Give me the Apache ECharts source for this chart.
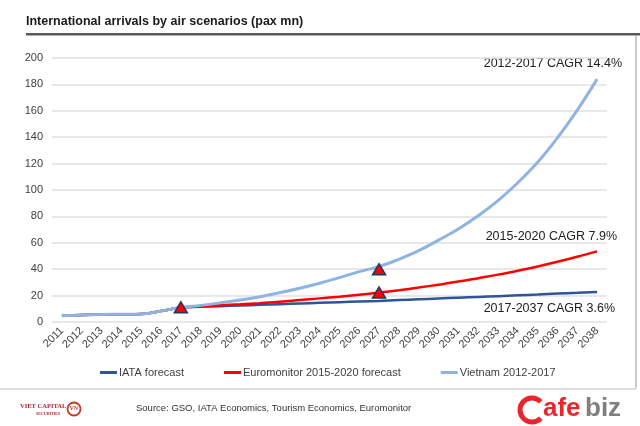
<!DOCTYPE html>
<html>
<head>
<meta charset="utf-8">
<script src="https://cdn.jsdelivr.net/npm/echarts@6/dist/echarts.min.js"></script>
<style>
html,body{margin:0;padding:0;background:#fff;}
#chart{width:640px;height:426px;}
</style>
</head>
<body>
<div id="chart"></div>
<script>
const titleText = 'International arrivals by air scenarios (pax mn)';
const years = ['2011','2012','2013','2014','2015','2016','2017','2018','2019','2020','2021','2022','2023','2024','2025','2026','2027','2028','2029','2030','2031','2032','2033','2034','2035','2036','2037','2038'];
const seriesNames = ['IATA forecast', 'Euromonitor 2015-2020 forecast', 'Vietnam 2012-2017'];
const iataValues = [4.8,5.3,5.7,5.9,6.1,8.3,11.0,11.5,12.0,12.5,13.0,13.5,14.0,14.5,15.0,15.5,16.0,16.6,17.2,17.8,18.4,19.0,19.6,20.2,20.8,21.5,22.1,22.8];
const euroValues = [4.8,5.3,5.7,5.9,6.1,8.3,11.0,11.8,12.6,13.4,14.3,15.3,16.6,17.9,19.2,20.7,22.3,24.1,26.1,28.3,30.6,33.2,35.9,38.9,42.1,45.6,49.4,53.5];
const vietnamValues = [4.8,5.3,5.7,5.9,6.1,8.3,11.0,12.6,14.5,16.6,19.2,22.3,25.6,29.4,33.6,38.2,42.0,47.5,54.0,62.0,70.5,80.5,92.0,105.5,121.0,139.5,160.5,184.0];
const markerYears = ['2017','2027','2027'];
const markerValues = [11.2,40.0,22.3];
const yTicks = [0,20,40,60,80,100,120,140,160,180,200];
const annotations = ['2012-2017 CAGR 14.4%', '2015-2020 CAGR 7.9%', '2017-2037 CAGR 3.6%'];
const sourceText = 'Source: GSO, IATA Economics, Tourism Economics, Euromonitor';

const colors = ['#2F5597', '#FF0000', '#8FB4E3'];
const chart = echarts.init(document.getElementById('chart'), null, {renderer: 'canvas'});
const font = 'Arial, "Liberation Sans", sans-serif';

const option = {
  backgroundColor: '#ffffff',
  animation: false,
  textStyle: {fontFamily: font},
  grid: {left: 52, right: 33, top: 58, bottom: 104, containLabel: false},
  legend: {
    data: seriesNames,
    left: 95,
    top: 362,
    icon: 'rect',
    itemWidth: 17,
    itemHeight: 3,
    itemGap: 40,
    textStyle: {fontSize: 11, color: '#404040', fontFamily: font, padding: [0,0,0,-3]}
  },
  xAxis: {
    type: 'category',
    data: years,
    boundaryGap: true,
    axisLine: {show: false},
    axisTick: {show: false},
    axisLabel: {rotate: 45, fontSize: 11, color: '#404040', margin: 7, interval: 0, fontFamily: font}
  },
  yAxis: {
    type: 'value',
    min: yTicks[0],
    max: yTicks[yTicks.length - 1],
    interval: 20,
    axisLine: {show: false},
    axisTick: {show: false},
    axisLabel: {fontSize: 11, color: '#404040', margin: 9, fontFamily: font},
    splitLine: {lineStyle: {color: '#e0e0e0', width: 1.5}}
  },
  series: [
    {name: seriesNames[0], type: 'line', data: iataValues, showSymbol: false, symbol: 'none', smooth: 0.4, lineStyle: {color: colors[0], width: 2.5}, itemStyle: {color: colors[0]}, z: 2},
    {name: seriesNames[1], type: 'line', data: euroValues, showSymbol: false, symbol: 'none', smooth: 0.4, lineStyle: {color: colors[1], width: 2.5}, itemStyle: {color: colors[1]}, z: 3},
    {name: seriesNames[2], type: 'line', data: vietnamValues, showSymbol: false, symbol: 'none', smooth: 0.4, lineStyle: {color: colors[2], width: 3}, itemStyle: {color: colors[2]}, z: 4},
    {name: 'markers', type: 'scatter', data: markerYears.map((y, i) => [y, markerValues[i]]), symbol: 'triangle', symbolSize: [13, 11], itemStyle: {color: '#FF0000', borderColor: '#1F3864', borderWidth: 1.5, opacity: 1}, z: 10}
  ],
  graphic: [
    {type: 'text', left: 26, top: 15, style: {text: titleText, font: 'bold 12.5px ' + font, fill: '#1a1a1a'}},
    {type: 'rect', shape: {x: 26, y: 33, width: 614, height: 2.5}, style: {fill: '#595959'}},
    {type: 'line', shape: {x1: 636, y1: 36, x2: 636, y2: 388}, style: {stroke: '#999', lineWidth: 1}},
    {type: 'line', shape: {x1: 0, y1: 389, x2: 636, y2: 389}, style: {stroke: '#dddddd', lineWidth: 2}},
    {type: 'text', right: 18, top: 57, style: {text: annotations[0], font: '12.5px ' + font, fill: '#222'}},
    {type: 'text', right: 23, top: 230, style: {text: annotations[1], font: '12.5px ' + font, fill: '#222'}},
    {type: 'text', right: 25, top: 302, style: {text: annotations[2], font: '12.5px ' + font, fill: '#222'}},
    {type: 'text', left: 136, top: 403, style: {text: sourceText, font: '9.5px ' + font, fill: '#333'}},
    {type: 'text', left: 20, top: 403, style: {text: 'VIET CAPITAL', font: 'bold 6.5px "Liberation Serif", serif', fill: '#B22234'}},
    {type: 'text', left: 36, top: 412, style: {text: 'SECURITIES', font: 'bold 4px "Liberation Serif", serif', fill: '#B22234'}},
    {type: 'circle', shape: {cx: 74, cy: 409, r: 6.5}, style: {fill: 'none', stroke: '#C0392B', lineWidth: 1.8}},
    {type: 'text', left: 69.5, top: 405, style: {text: 'VN', font: 'bold 6px "Liberation Serif", serif', fill: '#C0392B'}},
    {type: 'arc', shape: {cx: 532, cy: 410, r: 12, startAngle: 0.75, endAngle: Math.PI * 2 - 0.75}, style: {fill: 'none', stroke: '#E8262B', lineWidth: 5}},
    {type: 'text', left: 543, top: 396, style: {text: 'afe', font: 'bold 26px ' + font, fill: '#E8262B'}},
    {type: 'text', left: 585, top: 396, style: {text: 'biz', font: 'bold 26px ' + font, fill: '#7f7f7f'}}
  ]
};
chart.setOption(option);
</script>
</body>
</html>
